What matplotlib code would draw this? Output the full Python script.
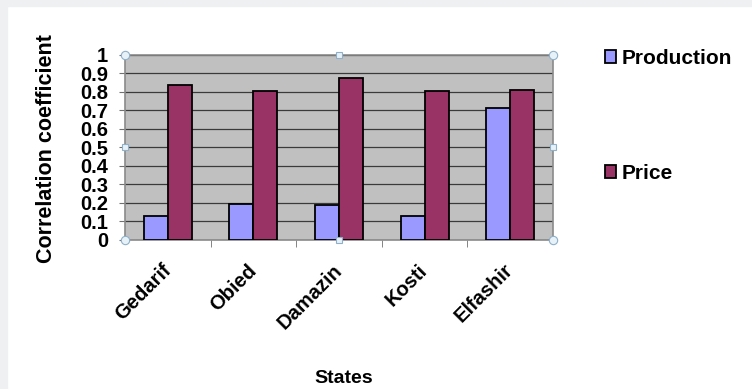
import matplotlib.pyplot as plt
import matplotlib.patches as mpatches
import matplotlib.transforms as mtransforms
import numpy as np

# Data
states = ['Gedarif', 'Obied', 'Damazin', 'Kosti', 'Elfashir']
production = [0.13, 0.19, 0.185, 0.13, 0.715]
price = [0.835, 0.805, 0.875, 0.805, 0.81]
y_ticks = [0, 0.1, 0.2, 0.3, 0.4, 0.5, 0.6, 0.7, 0.8, 0.9, 1]
y_tick_labels = ['0', '0.1', '0.2', '0.3', '0.4', '0.5', '0.6', '0.7', '0.8', '0.9', '1']

plt.rcParams['font.family'] = ['Liberation Sans', 'DejaVu Sans']

fig = plt.figure(figsize=(7.52, 3.89), dpi=100)
fig.patch.set_facecolor('white')

# light gray strips on top and left edge of the screenshot
fig.patches.append(mpatches.Rectangle((0, 1 - 6 / 389), 1, 6 / 389, transform=fig.transFigure,
                                      color='#eef0f2', zorder=0))
fig.patches.append(mpatches.Rectangle((0, 0), 7 / 752, 1, transform=fig.transFigure,
                                      color='#eef0f2', zorder=0))

ax = fig.add_axes([125 / 752, 1 - 239.5 / 389, 428 / 752, 184.5 / 389])
ax.set_facecolor('#c0c0c0')

x = np.arange(len(states))
w = 0.28
ax.bar(x - w / 2, production, w, color='#9999ff', edgecolor='black', linewidth=1.3,
       label='Production', zorder=3)
ax.bar(x + w / 2, price, w, color='#993366', edgecolor='black', linewidth=1.3,
       label='Price', zorder=3)

ax.set_xlim(-0.5, len(states) - 0.5)
ax.set_ylim(0, 1)
ax.set_yticks(y_ticks)
ax.set_yticklabels(y_tick_labels, fontsize=14.5, fontweight='bold')
ax.yaxis.grid(True, color='#3a3a3a', linewidth=0.9, zorder=1)
ax.set_axisbelow(True)

ax.set_xticks(x)
ax.set_xticklabels(states, rotation=45, ha='right', va='center', rotation_mode='anchor',
                   fontsize=14.5, fontweight='bold')
# nudge the rotated labels a little to the right
shift = mtransforms.ScaledTranslation(5 / 100, 0, fig.dpi_scale_trans)
for lab in ax.get_xticklabels():
    lab.set_transform(lab.get_transform() + shift)
ax.set_xticks(np.arange(0.5, len(states) - 0.5, 1), minor=True)
ax.tick_params(axis='x', which='major', length=0, pad=20)
ax.tick_params(axis='x', which='minor', length=5, color='#707070', direction='out')
ax.tick_params(axis='y', length=4, color='#707070', pad=8)

for s in ax.spines.values():
    s.set_color('#8a8a8a')
    s.set_linewidth(1.2)

ax.set_ylabel('Correlation coefficient', fontsize=15.5, fontweight='bold')
ax.yaxis.set_label_coords(-0.158, 0.494)
ax.set_xlabel('States', fontsize=14, fontweight='bold')
ax.xaxis.set_label_coords(0.512, -0.705)

# selection handles like in the original screenshot
for hx, hy, m in [(0, 0, 'o'), (0, 1, 'o'), (1, 0, 'o'), (1, 1, 'o'),
                  (0, 0.5, 's'), (1, 0.5, 's'), (0.5, 0, 's'), (0.5, 1, 's')]:
    ax.plot(hx, hy, marker=m, markersize=6 if m == 'o' else 5, markerfacecolor='#e6f2f8',
            markeredgecolor='#8fb0c8', markeredgewidth=0.8, transform=ax.transAxes,
            clip_on=False, zorder=5)

ax.legend(loc='upper left', bbox_to_anchor=(605 / 752, 1 - 49 / 389),
          bbox_transform=fig.transFigure, frameon=False,
          prop={'size': 15, 'weight': 'bold'}, handlelength=0.55, handleheight=0.55,
          handletextpad=0.25, labelspacing=4.6, borderaxespad=0, borderpad=0)

fig.savefig('out.png', dpi=100)
